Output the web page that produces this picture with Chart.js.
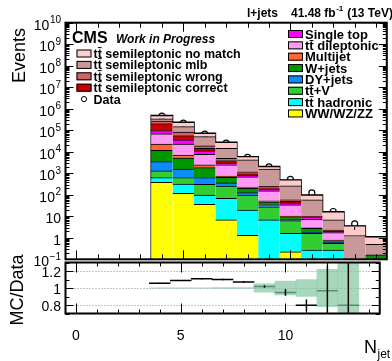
<!DOCTYPE html>
<html>
<head>
<meta charset="utf-8">
<script src="https://cdn.jsdelivr.net/npm/chart.js@4.4.0/dist/chart.umd.min.js"></script>
<style>
html, body { margin: 0; padding: 0; background: #fff; }
#wrap { position: relative; width: 392px; height: 361px; }
#wrap canvas { position: absolute; left: 0; top: 0; }
</style>
</head>
<body>
<div id="wrap">
  <canvas id="mainChart" width="392" height="361"></canvas>
  <canvas id="ratioChart" width="392" height="361"></canvas>
</div>
<script>
// bins (number of jets)
var nJet = [4, 5, 6, 7, 8, 9, 10, 11, 12, 13, 14];

// stacked MC, bottom to top (events per bin)
var dibosonEvents   = [380, 117, 36, 6.8, 1.3, 0.05, 0.22, 0, 0, 0, 0];
var ttHadEvents     = [250, 199, 61, 62, 18, 6.7, 1.4, 0.27, 0.27, 0, 0];
var ttVEvents       = [660, 315, 211, 188, 78, 21, 4.7, 1.35, 0.28, 0, 0];
var dyEvents        = [2180, 954, 322, 98, 28, 7.3, 0.94, 0.16, 0.08, 0, 0];
var wJetsEvents     = [8280, 3430, 1190, 291, 74, 12.4, 2.3, 0.97, 0.11, 0.02, 0.16];
var multijetEvents  = [11160, 2070, 635, 95, 29, 4.6, 0.7, 0.13, 0.05, 0, 0];
var ttDilepEvents   = [44700, 15830, 5130, 1714, 463, 102, 23.7, 4.36, 0.95, 0, 0];
var singleTopEvents = [27900, 12570, 3380, 496, 102, 36, 7.8, 2.31, 0.26, 0, 0];
var ttCorrectEvents = [108700, 20750, 3490, 939, 139, 23, 7.3, 0.22, 0.14, 0, 0];
var ttWrongEvents   = [65000, 25050, 4170, 1122, 242, 37, 8.5, 0.22, 0.15, 0, 0];
var ttMlbEvents     = [69700, 66630, 31500, 9440, 2994, 1298, 200, 47.5, 4.47, 1.26, 0.34];
var ttNoMatchEvents = [139800, 86510, 22330, 13090, 1719, 493, 233, 40.2, 9.44, 2.3, 0.62];

// data
var dataJet    = [4, 5, 6, 7, 8, 9, 10, 11, 12, 13];
var dataEvents = [453000, 215000, 65400, 25000, 5500, 2000, 516, 122, 16.7, 4.4];
var dataErr    = [670, 460, 255, 158, 74, 45, 23, 11, 4.1, 2.1];

// ratio panel
var ratioVals = [1.056, 1.089, 1.108, 1.10, 1.072, 1.017, 0.948, 0.796, 0.969, 0.796];
var ratioErr  = [0.006, 0.006, 0.007, 0.008, 0.01, 0.015, 0.04, 0.07, 0.3, 0.5];
var mcUnc     = [0.003, 0.003, 0.003, 0.006, 0.006, 0.05, 0.08, 0.1, 0.22, 0.4];

// tick labels
var xTickLabels = [0, 5, 10];
var yTickExps = [-1, 0, 1, 2, 3, 4, 5, 6, 7, 8, 9, 10];
var ratioTickLabels = [0.8, 1, 1.2];

var FONT = '"Liberation Sans", Arial, Helvetica, sans-serif';
var TT = 't' + 't\u0304';

var processes = [
    {label: 'WW/WZ/ZZ', values: dibosonEvents, color: '#ffff00'},
    {label: TT + ' hadronic', values: ttHadEvents, color: '#00ffff'},
    {label: TT + '+V', values: ttVEvents, color: '#33cc33'},
    {label: 'DY+jets', values: dyEvents, color: '#0a8cff'},
    {label: 'W+jets', values: wJetsEvents, color: '#009600'},
    {label: 'Multijet', values: multijetEvents, color: '#ff6633'},
    {label: TT + ' dileptonic', values: ttDilepEvents, color: '#ff99f5'},
    {label: 'Single top', values: singleTopEvents, color: '#ff00ff'},
    {label: TT + ' semileptonic correct', values: ttCorrectEvents, color: '#cc0000'},
    {label: TT + ' semileptonic wrong', values: ttWrongEvents, color: '#cd6565'},
    {label: TT + ' semileptonic mlb', values: ttMlbEvents, color: '#c99999'},
    {label: TT + ' semileptonic no match', values: ttNoMatchEvents, color: '#ffcccc'}
];

var totals = nJet.map(function(x, i) {
    return processes.reduce(function(s, p) { return s + p.values[i]; }, 0);
});

var stackDatasets = processes.map(function(p) {
    return {
        type: 'bar',
        label: p.label,
        data: nJet.map(function(x, i) { return {x: x, y: p.values[i]}; }),
        backgroundColor: p.color,
        borderColor: '#000',
        borderWidth: {top: 1, right: 0, bottom: 0, left: 0},
        borderSkipped: 'start',
        barPercentage: 1,
        categoryPercentage: 1
    };
});

// outline of the summed histogram (bin edges)
var outlinePoints = [{x: nJet[0] - 0.5, y: 0.1}];
nJet.forEach(function(x, i) { outlinePoints.push({x: x - 0.5, y: totals[i]}); });
outlinePoints.push({x: nJet[nJet.length - 1] + 0.5, y: totals[totals.length - 1]});
outlinePoints.push({x: nJet[nJet.length - 1] + 0.5, y: 0.1});

function frameTicks(chart, o) {
    var ctx = chart.ctx, a = chart.chartArea;
    var xs = chart.scales.x, ys = chart.scales.y;
    ctx.save();
    ctx.strokeStyle = '#000';
    ctx.lineWidth = 1;
    ctx.beginPath();
    for (var v = 0; v <= 14; v++) {
        var px = Math.round(xs.getPixelForValue(v)) + 0.5;
        var len = v % 5 === 0 ? o.xMajor : o.xMinor;
        ctx.moveTo(px, a.bottom); ctx.lineTo(px, a.bottom - len);
        ctx.moveTo(px, a.top); ctx.lineTo(px, a.top + len);
    }
    o.yTicks.forEach(function(t) {
        var py = Math.round(ys.getPixelForValue(t.v)) + 0.5;
        var l = t.major ? o.yMajor : o.yMinor;
        ctx.moveTo(a.left, py); ctx.lineTo(a.left + l, py);
        ctx.moveTo(a.right, py); ctx.lineTo(a.right - l, py);
    });
    ctx.stroke();
    ctx.lineWidth = 2;
    ctx.strokeRect(a.left, a.top, a.right - a.left, a.bottom - a.top);
    ctx.restore();
}

var mainYTicks = [];
for (var e = -1; e <= 9; e++) {
    mainYTicks.push({v: Math.pow(10, e), major: true});
    for (var k = 2; k <= 9; k++) mainYTicks.push({v: k * Math.pow(10, e), major: false});
}
mainYTicks.push({v: 1e10, major: true});

function legendRows(ctx, labels, x, y0, dy, font) {
    ctx.font = font;
    ctx.textAlign = 'left';
    labels.forEach(function(lab, i) {
        var cy = y0 + i * dy;
        ctx.lineWidth = 1;
        ctx.strokeStyle = '#000';
        if (lab === 'Data') {
            ctx.fillStyle = '#fff';
            ctx.beginPath(); ctx.arc(x + 7.5, cy, 2.6, 0, Math.PI * 2); ctx.fill(); ctx.stroke();
        } else {
            var p = processes.filter(function(q) { return q.label === lab; })[0];
            ctx.fillStyle = p.color;
            ctx.fillRect(x, cy - 4, 15, 8);
            ctx.strokeRect(x + 0.5, cy - 3.5, 14, 7);
        }
        ctx.fillStyle = '#000';
        ctx.fillText(lab, x + 17, cy + 4.5);
    });
}

var mainDecor = {
    id: 'mainDecor',
    afterDatasetsDraw: function(chart) {
        // data error bars
        var ctx = chart.ctx, ys = chart.scales.y;
        var meta = chart.getDatasetMeta(chart.data.datasets.length - 1);
        ctx.save();
        ctx.strokeStyle = '#000';
        ctx.lineWidth = 1;
        ctx.beginPath();
        meta.data.forEach(function(pt, i) {
            var top = ys.getPixelForValue(dataEvents[i] + dataErr[i]);
            var bot = ys.getPixelForValue(Math.max(dataEvents[i] - dataErr[i], 0.1));
            if (pt.y - top > 3) { ctx.moveTo(pt.x, top); ctx.lineTo(pt.x, pt.y - 3); }
            if (bot - pt.y > 3) { ctx.moveTo(pt.x, pt.y + 3); ctx.lineTo(pt.x, bot); }
        });
        ctx.stroke();
        ctx.restore();
    },
    afterDraw: function(chart) {
        var ctx = chart.ctx, ys = chart.scales.y;
        frameTicks(chart, {xMajor: 9, xMinor: 5, yMajor: 8, yMinor: 4, yTicks: mainYTicks});
        ctx.save();
        ctx.fillStyle = '#000';
        // y tick labels
        yTickExps.forEach(function(ex) {
            var py = ys.getPixelForValue(Math.pow(10, ex));
            var base = ex === 0 ? '1' : '10';
            var sup = (ex === 0 || ex === 1) ? '' : (ex < 0 ? '\u2212' + (-ex) : String(ex));
            ctx.font = '14px ' + FONT;
            var wb = ctx.measureText(base).width;
            ctx.font = '10px ' + FONT;
            var ws = sup ? ctx.measureText(sup).width + 0.5 : 0;
            var x0 = 61 - wb - ws;
            ctx.textAlign = 'left';
            ctx.font = '14px ' + FONT;
            ctx.fillText(base, x0, py + 7);
            if (sup) {
                ctx.font = '10px ' + FONT;
                ctx.fillText(sup, x0 + wb + 0.5, py + 0.5);
            }
        });
        // y title
        ctx.save();
        ctx.translate(25, 28);
        ctx.rotate(-Math.PI / 2);
        ctx.font = '18px ' + FONT;
        ctx.textAlign = 'right';
        ctx.fillText('Events', 0, 0);
        ctx.restore();
        // header
        ctx.textAlign = 'left';
        ctx.font = 'bold 12px ' + FONT;
        ctx.fillText('l+jets', 247, 17);
        var hx = 291;
        ctx.fillText('41.48 fb', hx, 17);
        hx += ctx.measureText('41.48 fb').width;
        ctx.font = 'bold 8px ' + FONT;
        ctx.fillText('-1', hx + 0.5, 11);
        hx += ctx.measureText('-1').width + 1;
        ctx.font = 'bold 12px ' + FONT;
        ctx.fillText(' (13 TeV)', hx, 17);
        // CMS label
        ctx.font = 'bold 16px ' + FONT;
        ctx.fillText('CMS', 72, 43);
        ctx.font = 'italic bold 12px ' + FONT;
        ctx.fillText('Work in Progress', 116, 43);
        // legends
        legendRows(ctx, [TT + ' semileptonic no match', TT + ' semileptonic mlb', TT + ' semileptonic wrong',
            TT + ' semileptonic correct', 'Data'], 76.5, 53.5, 11.4, 'bold 12.5px ' + FONT);
        legendRows(ctx, ['Single top', TT + ' dileptonic', 'Multijet', 'W+jets', 'DY+jets', TT + '+V',
            TT + ' hadronic', 'WW/WZ/ZZ'], 288, 34, 11.35, 'bold 13px ' + FONT);
        ctx.restore();
    }
};

var mainChart = new Chart(document.getElementById('mainChart'), {
    type: 'bar',
    data: {
        datasets: stackDatasets.concat([
            {
                type: 'line',
                label: 'outline',
                stack: 'outline',
                data: outlinePoints,
                stepped: 'before',
                borderColor: '#000',
                borderWidth: 1.5,
                pointRadius: 0,
                fill: false
            },
            {
                type: 'line',
                label: 'Data',
                stack: 'data',
                data: dataJet.map(function(x, i) { return {x: x, y: dataEvents[i]}; }),
                showLine: false,
                pointRadius: 3,
                pointBorderWidth: 1.2,
                pointBorderColor: '#000',
                pointBackgroundColor: '#fff'
            }
        ])
    },
    options: {
        responsive: false,
        animation: false,
        devicePixelRatio: 1,
        layout: {padding: {left: 65.5, right: 5, top: 22.7, bottom: 101.7}},
        plugins: {legend: {display: false}, tooltip: {enabled: false}},
        scales: {
            x: {type: 'linear', min: -0.5, max: 14.5, stacked: true, offset: false, display: false},
            y: {type: 'logarithmic', min: 0.1, max: 1e10, stacked: true, display: false}
        }
    },
    plugins: [mainDecor]
});

// ratio panel
var ratioYTicks = [0.7, 0.8, 0.9, 1.0, 1.1, 1.2, 1.3].map(function(v) {
    return {v: v, major: ratioTickLabels.some(function(t) { return Math.abs(t - v) < 1e-6; })};
});

var ratioDecor = {
    id: 'ratioDecor',
    beforeDatasetsDraw: function(chart) {
        var ctx = chart.ctx, a = chart.chartArea, ys = chart.scales.y;
        ctx.save();
        ctx.strokeStyle = '#8c8c8c';
        ctx.lineWidth = 1;
        ctx.setLineDash([1, 2]);
        ctx.beginPath();
        ratioTickLabels.forEach(function(v) {
            var py = Math.round(ys.getPixelForValue(v)) + 0.5;
            ctx.moveTo(a.left, py); ctx.lineTo(a.right, py);
        });
        ctx.stroke();
        ctx.restore();
    },
    afterDatasetsDraw: function(chart) {
        var ctx = chart.ctx, a = chart.chartArea, ys = chart.scales.y;
        var meta = chart.getDatasetMeta(1);
        ctx.save();
        ctx.beginPath();
        ctx.rect(a.left, a.top, a.right - a.left, a.bottom - a.top);
        ctx.clip();
        ctx.strokeStyle = '#000';
        ctx.lineWidth = 1.5;
        ctx.beginPath();
        meta.data.forEach(function(pt, i) {
            ctx.moveTo(pt.x, ys.getPixelForValue(ratioVals[i] + ratioErr[i]));
            ctx.lineTo(pt.x, ys.getPixelForValue(ratioVals[i] - ratioErr[i]));
        });
        ctx.stroke();
        ctx.restore();
    },
    afterDraw: function(chart) {
        var ctx = chart.ctx, xs = chart.scales.x, ys = chart.scales.y;
        frameTicks(chart, {xMajor: 10, xMinor: 4, yMajor: 8, yMinor: 4, yTicks: ratioYTicks});
        ctx.save();
        ctx.fillStyle = '#000';
        ctx.font = '14px ' + FONT;
        ctx.textAlign = 'right';
        ratioTickLabels.forEach(function(v) {
            ctx.fillText(String(v), 61, ys.getPixelForValue(v) + 6);
        });
        ctx.textAlign = 'center';
        xTickLabels.forEach(function(v) {
            ctx.fillText(String(v), xs.getPixelForValue(v), 340);
        });
        // x title
        ctx.textAlign = 'left';
        ctx.font = '18px ' + FONT;
        ctx.fillText('N', 364, 353);
        var wn = ctx.measureText('N').width;
        ctx.font = '12px ' + FONT;
        ctx.fillText('jet', 364 + wn + 0.5, 358);
        // y title
        ctx.save();
        ctx.translate(23, 290);
        ctx.rotate(-Math.PI / 2);
        ctx.font = '18px ' + FONT;
        ctx.textAlign = 'center';
        ctx.fillText('MC/Data', 0, 0);
        ctx.restore();
        ctx.restore();
    }
};

var ratioChart = new Chart(document.getElementById('ratioChart'), {
    type: 'bar',
    data: {
        datasets: [
            {
                type: 'bar',
                label: 'MC uncertainty',
                data: dataJet.map(function(x, i) { return {x: x, y: [1 - mcUnc[i], 1 + mcUnc[i]]}; }),
                backgroundColor: 'rgba(130, 200, 160, 0.7)',
                borderWidth: 0,
                barPercentage: 1,
                categoryPercentage: 1
            },
            {
                type: 'line',
                label: 'MC/Data',
                data: dataJet.map(function(x, i) { return {x: x, y: ratioVals[i]}; }),
                showLine: false,
                pointStyle: 'line',
                pointRadius: 10.75,
                pointBorderWidth: 1.5,
                pointBorderColor: '#000'
            }
        ]
    },
    options: {
        responsive: false,
        animation: false,
        devicePixelRatio: 1,
        layout: {padding: {left: 65.5, right: 5, top: 262.5, bottom: 47.5}},
        plugins: {legend: {display: false}, tooltip: {enabled: false}},
        scales: {
            x: {type: 'linear', min: -0.5, max: 14.5, offset: false, display: false},
            y: {type: 'linear', min: 0.7, max: 1.3, display: false}
        }
    },
    plugins: [ratioDecor]
});
</script>
</body>
</html>
